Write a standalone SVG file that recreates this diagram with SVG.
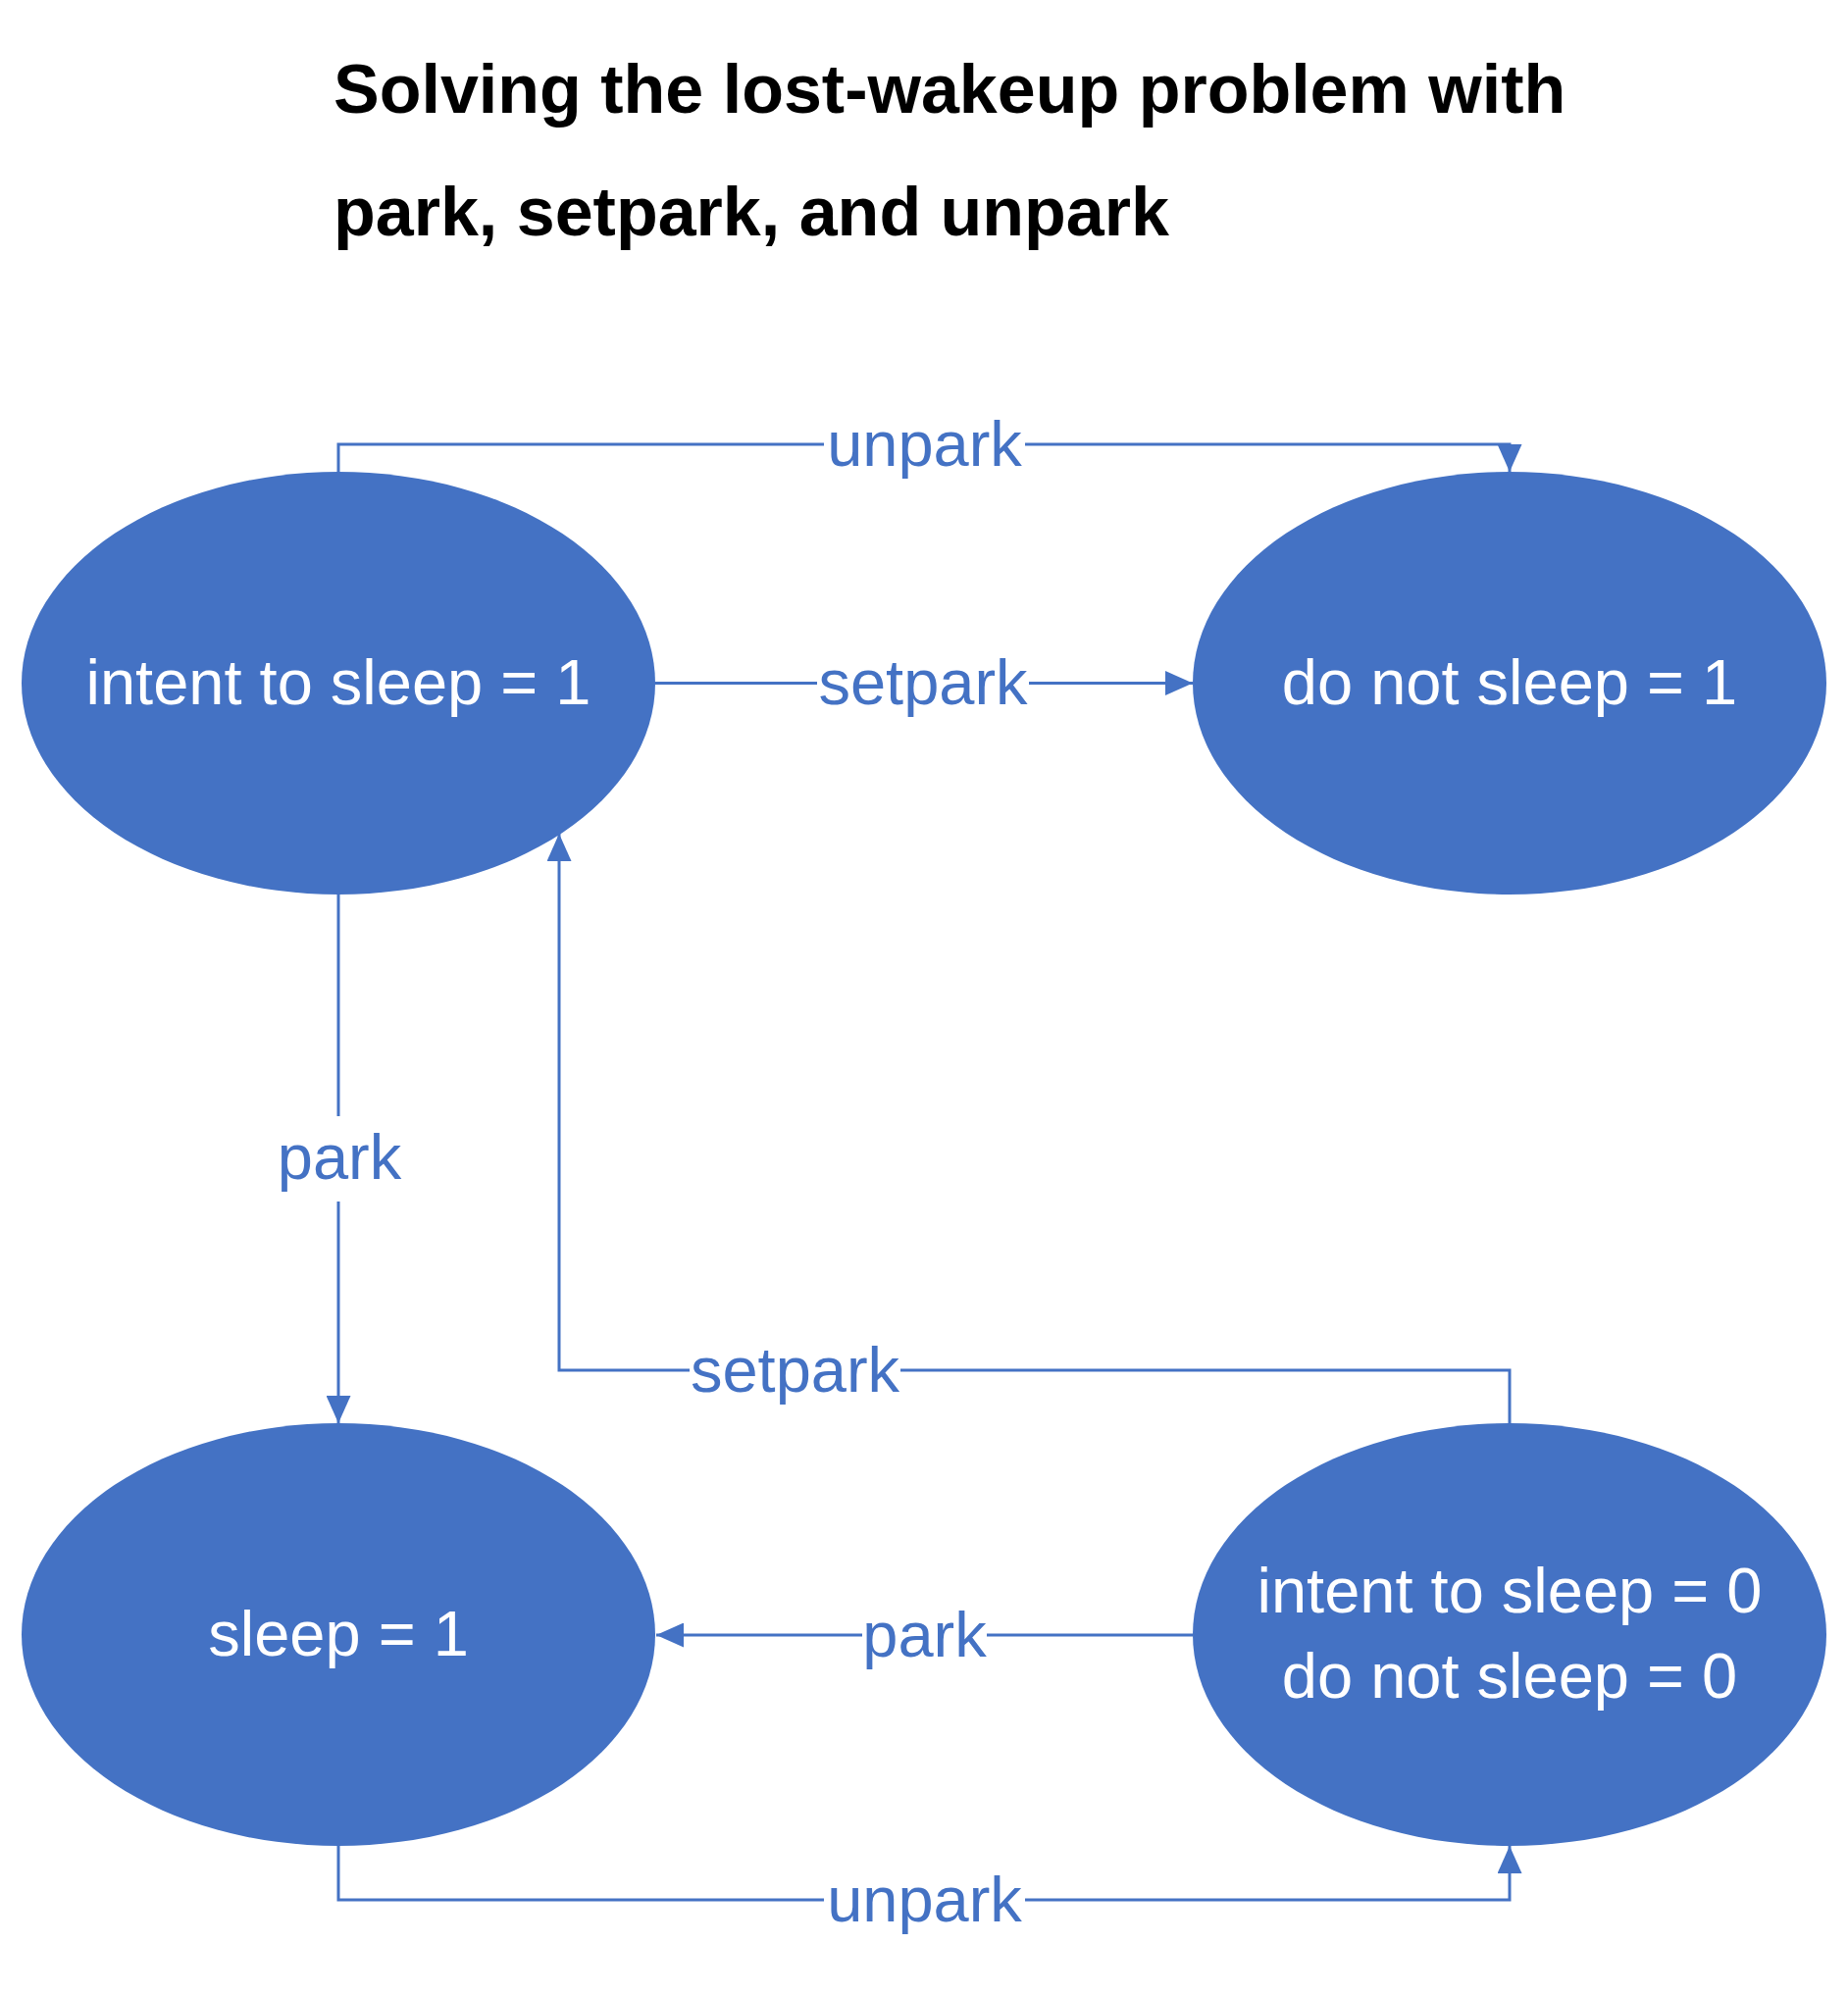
<svg xmlns="http://www.w3.org/2000/svg" width="1884" height="2034" viewBox="0 0 1884 2034">
  <style>
    .title { font-family: "Liberation Sans", Arial, sans-serif; font-weight: bold; font-size: 70px; fill: #000000; }
    .node { fill: #4472C4; }
    .ntext { font-family: "Liberation Sans", Arial, sans-serif; font-size: 65px; fill: #FFFFFF; text-anchor: middle; }
    .edge { fill: none; stroke: #4472C4; stroke-width: 3; }
    .elabel { font-family: "Liberation Sans", Arial, sans-serif; font-size: 65px; fill: #4472C4; text-anchor: middle; }
  </style>
  <defs>
    <marker id="arrow" viewBox="0 0 28 25" refX="28" refY="12.5" markerWidth="28" markerHeight="25" markerUnits="userSpaceOnUse" orient="auto">
      <path d="M0,0 L28,12.5 L0,25 Z" fill="#4472C4"/>
    </marker>
  </defs>
  <rect width="1884" height="2034" fill="#FFFFFF"/>

  <g id="title">
    <text class="title" x="340" y="115">Solving the lost-wakeup problem with</text>
    <text class="title" x="340" y="240">park, setpark, and unpark</text>
  </g>

  <g id="connectors">
    <!-- unpark top -->
    <path class="edge" d="M345,481 V453 H840"/>
    <path class="edge" d="M1045,453 H1539 V481" marker-end="url(#arrow)"/>
    <text class="elabel" x="942.5" y="475">unpark</text>
    <!-- setpark top -->
    <path class="edge" d="M668,696.5 H833"/>
    <path class="edge" d="M1049,696.5 H1216" marker-end="url(#arrow)"/>
    <text class="elabel" x="941" y="718">setpark</text>
    <!-- park vertical -->
    <path class="edge" d="M345,912 V1138"/>
    <path class="edge" d="M345,1225 V1451" marker-end="url(#arrow)"/>
    <text class="elabel" x="346" y="1202">park</text>
    <!-- setpark return -->
    <path class="edge" d="M1539,1451 V1397 H918"/>
    <path class="edge" d="M703,1397 H570 V850" marker-end="url(#arrow)"/>
    <text class="elabel" x="810.5" y="1419">setpark</text>
    <!-- park bottom -->
    <path class="edge" d="M1216,1667 H1006"/>
    <path class="edge" d="M879,1667 H669" marker-end="url(#arrow)"/>
    <text class="elabel" x="942.5" y="1689">park</text>
    <!-- unpark bottom -->
    <path class="edge" d="M345,1882 V1937 H840"/>
    <path class="edge" d="M1045,1937 H1539 V1882" marker-end="url(#arrow)"/>
    <text class="elabel" x="942.5" y="1959">unpark</text>
  </g>

  <g id="node-intent1">
    <ellipse class="node" cx="345" cy="696.5" rx="323" ry="215.5"/>
    <text class="ntext" x="345" y="718">intent to sleep = 1</text>
  </g>
  <g id="node-donotsleep1">
    <ellipse class="node" cx="1539" cy="696.5" rx="323" ry="215.5"/>
    <text class="ntext" x="1539" y="718">do not sleep = 1</text>
  </g>
  <g id="node-sleep1">
    <ellipse class="node" cx="345" cy="1666.5" rx="323" ry="215.5"/>
    <text class="ntext" x="345" y="1688">sleep = 1</text>
  </g>
  <g id="node-zero">
    <ellipse class="node" cx="1539" cy="1666.5" rx="323" ry="215.5"/>
    <text class="ntext" x="1539" y="1644">intent to sleep = 0</text>
    <text class="ntext" x="1539" y="1731">do not sleep = 0</text>
  </g>
</svg>
